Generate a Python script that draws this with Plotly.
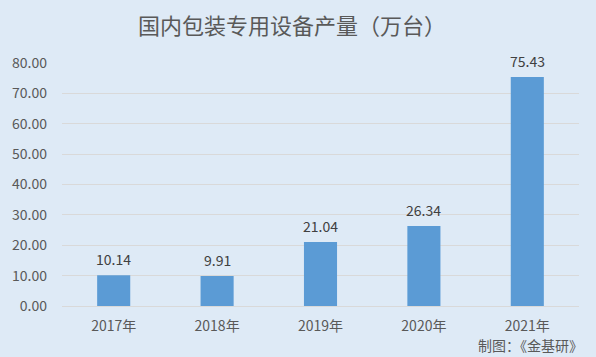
import plotly.graph_objects as go

categories = ["2017年", "2018年", "2019年", "2020年", "2021年"]
values = [10.14, 9.91, 21.04, 26.34, 75.43]
labels = ["10.14", "9.91", "21.04", "26.34", "75.43"]
y_ticks = [0, 10, 20, 30, 40, 50, 60, 70, 80]

font_family = "Microsoft YaHei, Noto Sans CJK SC, sans-serif"
bg = "#deeaf6"

fig = go.Figure(go.Bar(
    x=categories, y=values,
    marker=dict(color="#5b9bd5", line=dict(width=0)),
    hoverinfo="x+y",
))

value_labels = [
    dict(x=c, y=v, text=t, xref="x", yref="y", yshift=16,
         xanchor="center", yanchor="middle", showarrow=False,
         font=dict(size=14, color="#404040"))
    for c, v, t in zip(categories, values, labels)
]

fig.update_layout(
    width=596, height=357,
    paper_bgcolor=bg, plot_bgcolor=bg,
    margin=dict(l=62, r=17, t=63, b=51),
    bargap=0.68,
    showlegend=False,
    font=dict(family=font_family, color="#595959"),
    title=dict(text="国内包装专用设备产量（万台）", x=0.49, xanchor="center",
               y=0.925, yanchor="middle", font=dict(size=22, color="#595959")),
    xaxis=dict(showgrid=False, showline=True, linecolor="#d9d9d9", linewidth=1,
               tickfont=dict(size=14, color="#595959"), ticks="",
               ticklabelstandoff=7),
    yaxis=dict(range=[0, 80], tickvals=y_ticks,
               ticktext=[f"{v:.2f}" for v in y_ticks],
               showgrid=True, gridcolor="#d9d9d9", gridwidth=1,
               zeroline=False, showline=False,
               tickfont=dict(size=14, color="#595959"), ticks="", ticklen=0,
               ticklabelstandoff=14, automargin=False),
    annotations=value_labels + [
        dict(text="制图：《金基研》", xref="paper", yref="paper",
             x=1.012, y=-0.16, xanchor="right", yanchor="middle",
             showarrow=False, font=dict(size=14, color="#595959"))],
)

fig.write_html(
    "out.html",
    config={"displayModeBar": False},
    post_script="document.body.style.margin='0';document.body.style.background='" + bg + "';",
)
